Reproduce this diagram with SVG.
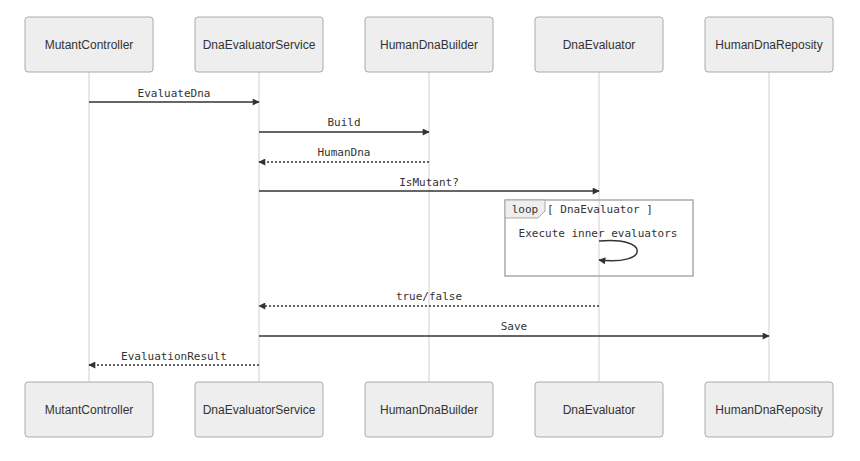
<svg xmlns="http://www.w3.org/2000/svg" width="860" height="461" viewBox="0 0 860 461">
<defs>
<style>
.actor rect{fill:#eeeeee;stroke:#aaaaaa;stroke-width:1}
.actor text{font-family:"Liberation Sans",Arial,sans-serif;font-size:12px;fill:#333;text-anchor:middle;dominant-baseline:central}
.life{stroke:#d0d0d0;stroke-width:1}
.msg{stroke:#333;stroke-width:1.5;fill:none}
.dash{stroke-dasharray:2,2}
.lbl{font-family:"DejaVu Sans Mono","Liberation Mono",monospace;font-size:11px;fill:#333;text-anchor:middle}
</style>
<marker id="arr" viewBox="0 0 10 10" refX="9" refY="5" markerWidth="8" markerHeight="7" markerUnits="userSpaceOnUse" orient="auto">
<path d="M0,0 L10,5 L0,10 z" fill="#333"/>
</marker>
</defs>
<rect width="860" height="461" fill="#fff"/>
<g id="lifelines">
<line class="life" x1="89" y1="72" x2="89" y2="382"/>
<line class="life" x1="259" y1="72" x2="259" y2="382"/>
<line class="life" x1="429" y1="72" x2="429" y2="382"/>
<line class="life" x1="599" y1="72" x2="599" y2="382"/>
<line class="life" x1="769" y1="72" x2="769" y2="382"/>
</g>
<g id="MutantController" class="actor"><rect x="25" y="17" width="128" height="55" rx="3"/><text x="89" y="45">MutantController</text></g>
<g id="DnaEvaluatorService" class="actor"><rect x="195" y="17" width="128" height="55" rx="3"/><text x="259" y="45">DnaEvaluatorService</text></g>
<g id="HumanDnaBuilder" class="actor"><rect x="365" y="17" width="128" height="55" rx="3"/><text x="429" y="45">HumanDnaBuilder</text></g>
<g id="DnaEvaluator" class="actor"><rect x="535" y="17" width="128" height="55" rx="3"/><text x="599" y="45">DnaEvaluator</text></g>
<g id="HumanDnaReposity" class="actor"><rect x="705" y="17" width="128" height="55" rx="3"/><text x="769" y="45">HumanDnaReposity</text></g>
<g id="MutantController-bottom" class="actor"><rect x="25" y="382" width="128" height="55" rx="3"/><text x="89" y="410">MutantController</text></g>
<g id="DnaEvaluatorService-bottom" class="actor"><rect x="195" y="382" width="128" height="55" rx="3"/><text x="259" y="410">DnaEvaluatorService</text></g>
<g id="HumanDnaBuilder-bottom" class="actor"><rect x="365" y="382" width="128" height="55" rx="3"/><text x="429" y="410">HumanDnaBuilder</text></g>
<g id="DnaEvaluator-bottom" class="actor"><rect x="535" y="382" width="128" height="55" rx="3"/><text x="599" y="410">DnaEvaluator</text></g>
<g id="HumanDnaReposity-bottom" class="actor"><rect x="705" y="382" width="128" height="55" rx="3"/><text x="769" y="410">HumanDnaReposity</text></g>
<g id="loop">
<rect x="505" y="200" width="188" height="76" fill="none" stroke="#aaaaaa" stroke-width="1.5"/>
<path d="M505,200 L545,200 L545,211 L538,218 L505,218 z" fill="#eeeeee" stroke="#aaaaaa" stroke-width="1"/>
<text x="525" y="213" class="lbl">loop</text>
<text x="600" y="213" class="lbl">[ DnaEvaluator ]</text>
</g>
<g id="connectors">
<line class="msg" x1="89" y1="102" x2="259" y2="102" marker-end="url(#arr)"/>
<text class="lbl" x="174" y="97">EvaluateDna</text>
<line class="msg" x1="259" y1="132" x2="429" y2="132" marker-end="url(#arr)"/>
<text class="lbl" x="344" y="126">Build</text>
<line class="msg dash" x1="429" y1="162" x2="259" y2="162" marker-end="url(#arr)"/>
<text class="lbl" x="344" y="156">HumanDna</text>
<line class="msg" x1="259" y1="191" x2="599" y2="191" marker-end="url(#arr)"/>
<text class="lbl" x="429" y="186">IsMutant?</text>
<text class="lbl" x="598" y="237">Execute inner evaluators</text>
<path class="msg" d="M599,241 C650,236 650,266 599,260" marker-end="url(#arr)"/>
<line class="msg dash" x1="599" y1="306" x2="259" y2="306" marker-end="url(#arr)"/>
<text class="lbl" x="429" y="300">true/false</text>
<line class="msg" x1="259" y1="336" x2="769" y2="336" marker-end="url(#arr)"/>
<text class="lbl" x="514" y="330">Save</text>
<line class="msg dash" x1="259" y1="365" x2="89" y2="365" marker-end="url(#arr)"/>
<text class="lbl" x="174" y="360">EvaluationResult</text>
</g>
</svg>
